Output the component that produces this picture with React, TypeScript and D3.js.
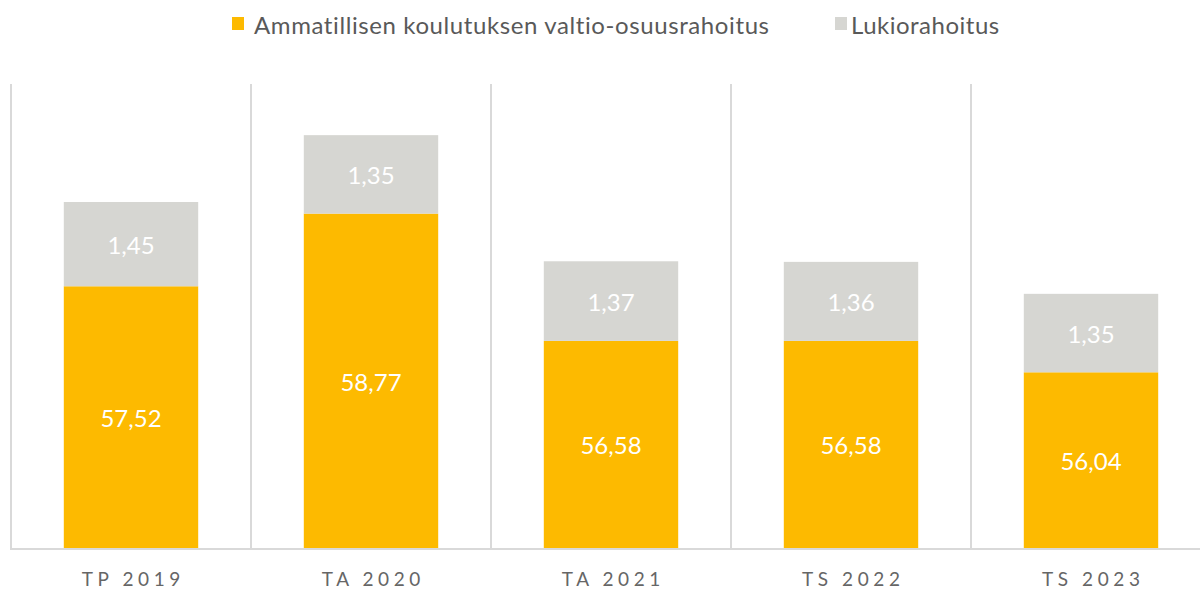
import React from "react";
import * as d3 from "d3";

const categories = ["TP 2019", "TA 2020", "TA 2021", "TS 2022", "TS 2023"];
const ammatillinen = [57.52, 58.77, 56.58, 56.58, 56.04];
const lukio = [1.45, 1.35, 1.37, 1.36, 1.35];
const seriesNames = ["Ammatillisen koulutuksen valtio-osuusrahoitus", "Lukiorahoitus"];
const colors = ["#FDBA00", "#D6D6D2"];

const W = 1200;
const H = 589;
const font = "Lato, 'Open Sans', sans-serif";

export default function App() {
  const x = d3.scaleBand<string>().domain(categories).range([11, 1211]).paddingInner(0).paddingOuter(0);
  const y = d3.scaleLinear().domain([53, 61]).range([549, 84]);
  const barW = x.bandwidth() * 0.56;
  const fmt = (v: number) => v.toFixed(2).replace(".", ",");
  const catSpacing = 4.6;

  return (
    <svg width={W} height={H} style={{ position: "absolute", left: 0, top: 0, background: "#fff" }}>
      {categories.map((c) => (
        <line key={"g" + c} x1={x(c)!} x2={x(c)!} y1={y(61)} y2={y(53)} stroke="#D9D9D9" strokeWidth={2} />
      ))}
      {categories.map((c, i) => {
        const cx = x(c)! + x.bandwidth() / 2;
        const x0 = cx - barW / 2;
        const top1 = y(ammatillinen[i]);
        const top2 = y(ammatillinen[i] + lukio[i]);
        return (
          <g key={c}>
            <rect x={x0} y={top1} width={barW} height={y(53) - top1} fill={colors[0]} />
            <rect x={x0} y={top2} width={barW} height={top1 - top2} fill={colors[1]} />
            <text x={cx} y={(top1 + y(53)) / 2} fill="#fff" fontSize={24} fontFamily={font} textAnchor="middle" dominantBaseline="central">
              {fmt(ammatillinen[i])}
            </text>
            <text x={cx} y={(top1 + top2) / 2} fill="#fff" fontSize={24} fontFamily={font} textAnchor="middle" dominantBaseline="central">
              {fmt(lukio[i])}
            </text>
            <text x={cx + catSpacing / 2} y={578} fill="#666666" fontSize={19} fontFamily={font} textAnchor="middle" dominantBaseline="central" letterSpacing={catSpacing}>
              {c}
            </text>
          </g>
        );
      })}
      <line x1={10} x2={W} y1={y(53)} y2={y(53)} stroke="#D9D9D9" strokeWidth={2} />
      <g>
        <rect x={232} y={17} width={12} height={13} fill={colors[0]} />
        <text x={254} y={24} fill="#595959" fontSize={24} fontFamily={font} dominantBaseline="central" letterSpacing={0.6}>
          {seriesNames[0]}
        </text>
        <rect x={835} y={17} width={12} height={13} fill={colors[1]} />
        <text x={851} y={24} fill="#595959" fontSize={24} fontFamily={font} dominantBaseline="central" letterSpacing={0.5}>
          {seriesNames[1]}
        </text>
      </g>
    </svg>
  );
}
